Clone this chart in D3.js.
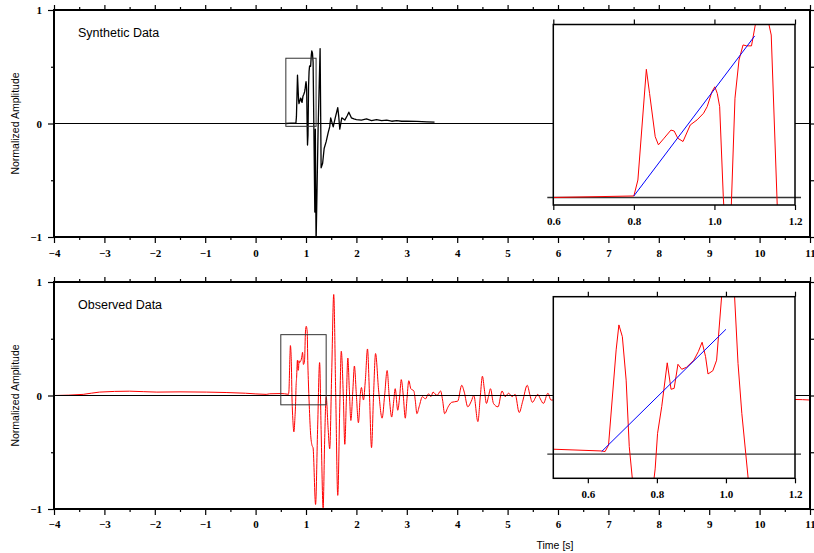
<!DOCTYPE html>
<html>
    <head>
        <title>Synthetic and observed data</title>
        <meta charset="UTF-8">
        <script type="text/javascript" src="https://cdn.jsdelivr.net/npm/d3@7/dist/d3.min.js"></script>
        <style>
            body { margin: 0; background: #fff; }
            svg { display: block; }
        </style>
    </head>
    <body>
        <script type="text/javascript">
            // synthetic trace (seconds, normalized amplitude)
            var synTime = [0.60, 0.80, 0.81, 0.831, 0.839, 0.853, 0.861, 0.875, 0.892, 0.900,
                0.909, 0.922, 0.940, 0.957, 0.973, 0.982, 0.994, 1.001, 1.007, 1.013,
                1.022, 1.030, 1.040, 1.051, 1.061, 1.071, 1.080, 1.092, 1.105, 1.115,
                1.128, 1.141, 1.156, 1.175, 1.185, 1.200, 1.240, 1.280, 1.300, 1.330,
                1.360, 1.400, 1.440, 1.470, 1.490, 1.540, 1.580, 1.630, 1.650, 1.670,
                1.710, 1.770, 1.820, 1.850, 1.900, 1.950, 2.000, 2.100, 2.200, 2.300,
                2.400, 2.500, 2.600, 2.700, 2.800, 2.900, 3.000, 3.200, 3.400, 3.550];
            var synAmp = [0.000, 0.005, 0.058, 0.426, 0.346, 0.202, 0.175, 0.197, 0.224, 0.221,
                0.197, 0.186, 0.241, 0.258, 0.280, 0.302, 0.352, 0.368, 0.346, 0.302,
                0.003, -0.190, -0.100, 0.330, 0.457, 0.507, 0.504, 0.504, 0.600, 0.640,
                0.620, 0.540, -0.030, -0.780, -0.050, -1.060, -0.050, 0.660, -0.390, -0.350,
                -0.220, -0.160, -0.080, -0.030, 0.050, -0.030, 0.050, 0.140, 0.060, -0.050,
                0.050, 0.030, 0.070, 0.100, 0.050, 0.040, 0.035, 0.030, 0.040, 0.025,
                0.035, 0.025, 0.030, 0.020, 0.025, 0.020, 0.020, 0.018, 0.015, 0.012];

            // observed trace
            var obsTime = [-4.00, -3.42, -3.10, -2.50, -1.96, -1.50, -0.97, -0.20, 0.21, 0.28,
                0.50, 0.640, 0.650, 0.660, 0.682, 0.690, 0.700, 0.711, 0.720, 0.740,
                0.760, 0.780, 0.795, 0.802, 0.814, 0.830, 0.841, 0.850, 0.861, 0.872,
                0.886, 0.907, 0.920, 0.931, 0.941, 0.948, 0.962, 0.973, 0.989, 1.005,
                1.024, 1.035, 1.046, 1.065, 1.090, 1.120, 1.140, 1.190, 1.230, 1.270,
                1.300, 1.340, 1.370, 1.400, 1.440, 1.470, 1.510, 1.550, 1.590, 1.630,
                1.670, 1.700, 1.740, 1.770, 1.800, 1.830, 1.860, 1.890, 1.930, 1.960,
                2.000, 2.040, 2.080, 2.100, 2.140, 2.180, 2.220, 2.260, 2.300, 2.340,
                2.380, 2.440, 2.510, 2.560, 2.610, 2.650, 2.700, 2.740, 2.770, 2.820,
                2.860, 2.890, 2.930, 2.970, 3.000, 3.040, 3.080, 3.140, 3.170, 3.200,
                3.250, 3.310, 3.370, 3.430, 3.480, 3.520, 3.600, 3.670, 3.710, 3.750,
                3.820, 3.890, 4.010, 4.090, 4.140, 4.210, 4.280, 4.330, 4.410, 4.460,
                4.500, 4.540, 4.580, 4.620, 4.660, 4.720, 4.810, 4.890, 4.950, 5.020,
                5.090, 5.150, 5.230, 5.300, 5.390, 5.440, 5.490, 5.600, 5.650, 5.710,
                5.800, 5.860, 10.70, 11.00];
            var obsAmp = [0.000, 0.010, 0.030, 0.038, 0.030, 0.032, 0.030, 0.020, 0.010, 0.015,
                0.017, 0.011, 0.009, 0.031, 0.355, 0.440, 0.400, 0.252, 0.026, -0.220,
                -0.320, -0.200, -0.050, 0.071, 0.162, 0.311, 0.221, 0.224, 0.306, 0.289,
                0.296, 0.320, 0.349, 0.381, 0.332, 0.273, 0.284, 0.320, 0.560, 0.610,
                0.560, 0.309, 0.139, -0.090, -0.330, -0.440, -0.460, -0.960, -0.300, 0.290,
                -0.300, -0.990, -0.400, -0.010, -0.300, -0.470, 0.200, 0.890, 0.000, -0.880,
                -0.100, 0.390, 0.000, -0.430, -0.050, 0.330, 0.050, -0.220, 0.050, 0.260,
                0.000, -0.240, 0.020, 0.070, -0.040, 0.150, 0.410, 0.000, -0.460, 0.000,
                0.370, 0.050, -0.200, 0.000, 0.220, 0.000, -0.190, -0.050, 0.060, -0.130,
                0.000, 0.140, 0.000, -0.200, -0.050, 0.130, 0.060, 0.040, -0.050, -0.160,
                -0.090, -0.010, -0.030, 0.015, -0.010, 0.030, 0.000, 0.040, -0.040, -0.160,
                -0.100, -0.060, -0.050, 0.090, 0.030, -0.100, -0.050, 0.000, -0.230, 0.000,
                0.170, 0.050, -0.070, -0.010, 0.060, -0.070, -0.100, 0.040, -0.010, 0.020,
                -0.010, 0.010, -0.150, -0.050, 0.090, 0.010, -0.060, 0.010, -0.030, -0.070,
                0.020, -0.040, -0.035, -0.040];

            // picked onset lines shown in the zoom windows
            var synPickTime = [0.80, 1.10], synPickAmp = [0.005, 0.537];
            var obsPickTime = [0.64, 1.00], obsPickAmp = [0.009, 0.425];

            // zoom windows [t0, t1, a0, a1]
            var synBox = [0.6, 1.2, -0.025, 0.575];
            var obsBox = [0.5, 1.4, -0.082, 0.536];
            var synInsetX = [0.6, 1.2];
            var obsInsetX = [0.5, 1.2];

            var xMajor = [-4, -3, -2, -1, 0, 1, 2, 3, 4, 5, 6, 7, 8, 9, 10, 11];
            var xMinor = [-3.5, -2.5, -1.5, -0.5, 0.5, 1.5, 2.5, 3.5, 4.5, 5.5, 6.5, 7.5, 8.5, 9.5, 10.5];
            var yMajor = [-1, 0, 1];
            var yMinor = [-0.5, 0.5];
            var insetTicks = [0.6, 0.8, 1.0, 1.2];

            var serif = "'Liberation Serif', 'Times New Roman', serif";
            var sans = "'Liberation Sans', Arial, sans-serif";

            var svg = d3.select("body").append("svg")
                    .attr("width", 814)
                    .attr("height", 553);

            var x = d3.scaleLinear().domain([-4, 11]).range([54, 810]);

            var panels = [
                {top: 10, bottom: 237, title: "Synthetic Data", titleY: 37, t: synTime, a: synAmp,
                    color: "#000", width: 1.3, curve: d3.curveLinear, box: synBox,
                    inset: {top: 24.5, bottom: 205, dom: synInsetX},
                    pickT: synPickTime, pickA: synPickAmp, labelPad: 6},
                {top: 282, bottom: 509, title: "Observed Data", titleY: 309, t: obsTime, a: obsAmp,
                    color: "#f00", width: 1, curve: d3.curveMonotoneX, box: obsBox,
                    inset: {top: 296.7, bottom: 478.3, dom: obsInsetX},
                    pickT: obsPickTime, pickA: obsPickAmp, labelPad: 5}
            ];

            function styleAxis(sel) {
                sel.attr("font-family", serif).attr("font-size", 11).attr("font-weight", "bold");
                sel.select(".domain").remove();
                sel.selectAll("line").style("stroke-width", 1.2);
            }

            panels.forEach(function(p, i) {
                var y = d3.scaleLinear().domain([-1, 1]).range([p.bottom, p.top]);
                var g = svg.append("g");
                var pts = p.t.map(function(t, k) { return [t, p.a[k]]; });

                g.append("clipPath").attr("id", "clip" + i)
                        .append("rect")
                        .attr("x", 54).attr("y", p.top)
                        .attr("width", 756).attr("height", p.bottom - p.top);

                var line = d3.line()
                        .curve(p.curve)
                        .x(function(d) { return x(d[0]); })
                        .y(function(d) { return y(d[1]); });

                // zero line
                g.append("line")
                        .attr("x1", 54).attr("x2", 810)
                        .attr("y1", y(0)).attr("y2", y(0))
                        .style("stroke", "#000").style("stroke-width", 1);

                g.append("path")
                        .datum(pts)
                        .attr("clip-path", "url(#clip" + i + ")")
                        .attr("d", line)
                        .style("fill", "none")
                        .style("stroke", p.color)
                        .style("stroke-width", p.width)
                        .style("stroke-linejoin", "round");

                if (i === 1) {
                    g.append("line")
                            .attr("x1", 54).attr("x2", 810)
                            .attr("y1", y(0)).attr("y2", y(0))
                            .style("stroke", "#000").style("stroke-width", 1);
                }

                // zoom window box
                g.append("rect")
                        .attr("x", x(p.box[0])).attr("y", y(p.box[3]))
                        .attr("width", x(p.box[1]) - x(p.box[0]))
                        .attr("height", y(p.box[2]) - y(p.box[3]))
                        .style("fill", "none")
                        .style("stroke", "#333").style("stroke-width", 1);

                // axes
                g.append("g").attr("transform", "translate(0," + p.bottom + ")")
                        .call(d3.axisBottom(x).tickValues(xMajor).tickSize(6).tickPadding(p.labelPad).tickFormat(d3.format("d")))
                        .call(styleAxis);
                g.append("g").attr("transform", "translate(0," + p.bottom + ")")
                        .call(d3.axisBottom(x).tickValues(xMinor).tickSize(3).tickFormat(""))
                        .call(styleAxis);
                g.append("g").attr("transform", "translate(0," + p.top + ")")
                        .call(d3.axisTop(x).tickValues(xMajor).tickSize(5).tickFormat(""))
                        .call(styleAxis);
                g.append("g").attr("transform", "translate(0," + p.top + ")")
                        .call(d3.axisTop(x).tickValues(xMinor).tickSize(3).tickFormat(""))
                        .call(styleAxis);
                g.append("g").attr("transform", "translate(54,0)")
                        .call(d3.axisLeft(y).tickValues(yMajor).tickSize(6).tickPadding(6).tickFormat(d3.format("d")))
                        .call(styleAxis);
                g.append("g").attr("transform", "translate(54,0)")
                        .call(d3.axisLeft(y).tickValues(yMinor).tickSize(3).tickFormat(""))
                        .call(styleAxis);
                g.append("g").attr("transform", "translate(810,0)")
                        .call(d3.axisRight(y).tickValues(yMajor).tickSize(6).tickFormat(""))
                        .call(styleAxis);
                g.append("g").attr("transform", "translate(810,0)")
                        .call(d3.axisRight(y).tickValues(yMinor).tickSize(4).tickFormat(""))
                        .call(styleAxis);

                g.append("rect")
                        .attr("x", 54).attr("y", p.top)
                        .attr("width", 756).attr("height", p.bottom - p.top)
                        .style("fill", "none")
                        .style("stroke", "#000").style("stroke-width", 2);

                g.append("text")
                        .attr("x", 78).attr("y", p.titleY)
                        .attr("font-family", sans).attr("font-size", 12.5)
                        .text(p.title);

                g.append("text")
                        .attr("transform", "translate(19," + ((p.top + p.bottom) / 2) + ") rotate(-90)")
                        .attr("text-anchor", "middle")
                        .attr("font-family", sans).attr("font-size", 10.5)
                        .text("Normalized Amplitude");

                // inset
                var ins = p.inset;
                var xi = d3.scaleLinear().domain(ins.dom).range([553.3, 795]);
                var yi = d3.scaleLinear().domain([p.box[2], p.box[3]]).range([ins.bottom, ins.top]);
                var gi = g.append("g");

                gi.append("rect")
                        .attr("x", 553.3).attr("y", ins.top)
                        .attr("width", 795 - 553.3).attr("height", ins.bottom - ins.top)
                        .style("fill", "#fff");

                gi.append("clipPath").attr("id", "iclip" + i)
                        .append("rect")
                        .attr("x", 553.3).attr("y", ins.top)
                        .attr("width", 795 - 553.3).attr("height", ins.bottom - ins.top);

                var iline = d3.line()
                        .x(function(d) { return xi(d[0]); })
                        .y(function(d) { return yi(d[1]); });

                gi.append("line")
                        .attr("x1", 547.3).attr("x2", 801)
                        .attr("y1", yi(0)).attr("y2", yi(0))
                        .style("stroke", "#333").style("stroke-width", 1.3);

                gi.append("path")
                        .datum(pts)
                        .attr("clip-path", "url(#iclip" + i + ")")
                        .attr("d", iline)
                        .style("fill", "none")
                        .style("stroke", "#f00")
                        .style("stroke-width", 1);

                gi.append("path")
                        .datum(p.pickT.map(function(t, k) { return [t, p.pickA[k]]; }))
                        .attr("d", iline)
                        .style("fill", "none")
                        .style("stroke", "#00f")
                        .style("stroke-width", 1);

                gi.append("g").attr("transform", "translate(0," + ins.bottom + ")")
                        .call(d3.axisBottom(xi).tickValues(insetTicks).tickSize(5).tickPadding(7).tickFormat(d3.format(".1f")))
                        .call(styleAxis);
                gi.append("g").attr("transform", "translate(0," + ins.top + ")")
                        .call(d3.axisTop(xi).tickValues(insetTicks).tickSize(5).tickFormat(""))
                        .call(styleAxis);

                gi.append("rect")
                        .attr("x", 553.3).attr("y", ins.top)
                        .attr("width", 795 - 553.3).attr("height", ins.bottom - ins.top)
                        .style("fill", "none")
                        .style("stroke", "#000").style("stroke-width", 1.5);
            });

            svg.append("text")
                    .attr("x", 555).attr("y", 549)
                    .attr("text-anchor", "middle")
                    .attr("font-family", sans).attr("font-size", 10.5)
                    .text("Time [s]");
        </script>
    </body>
</html>
